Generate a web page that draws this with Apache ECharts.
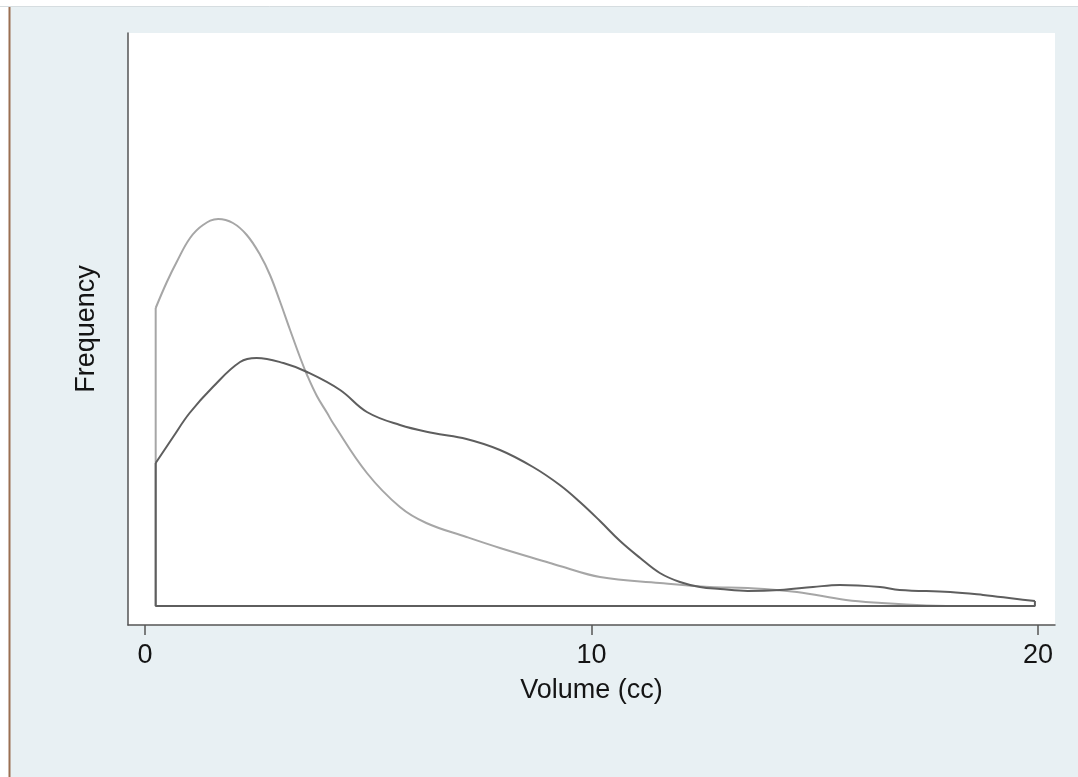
<!DOCTYPE html>
<html>
<head>
<meta charset="utf-8">
<style>
html,body{margin:0;padding:0;background:#fff;}
#chart{width:1078px;height:777px;}
</style>
<script src="https://cdn.jsdelivr.net/npm/echarts@6/dist/echarts.min.js"></script>
</head>
<body>
<div id="chart"></div>
<script>
// Volume (cc) values and estimated density heights
const xTicks = [0, 10, 20];
const xTickLabels = ['0', '10', '20'];
const lightX = [0.24, 0.49, 0.71, 1.01, 1.30, 1.64, 1.97, 2.28, 2.58, 2.80, 3.02, 3.25, 3.47, 3.63, 3.85, 4.08, 4.21, 4.97, 5.71, 6.3, 7.2, 7.95, 9.07, 9.29, 10.19, 11.53, 12.65, 13.5, 14.6, 15.7, 16.5, 17.5, 18.5, 19.93];
const lightY = [0.149, 0.162, 0.172, 0.184, 0.1905, 0.1935, 0.1915, 0.1855, 0.1755, 0.1655, 0.1525, 0.138, 0.1245, 0.1155, 0.105, 0.0965, 0.0915, 0.0665, 0.0495, 0.0415, 0.0345, 0.029, 0.0215, 0.020, 0.0145, 0.0115, 0.0095, 0.009, 0.007, 0.003, 0.0015, 0.0003, 0.0, 0.0];
const darkX = [0.24, 0.63, 1.0, 1.52, 2.13, 2.5, 3.1, 3.63, 4.37, 4.97, 5.71, 6.45, 7.2, 7.95, 8.69, 9.29, 9.74, 10.19, 10.64, 11.09, 11.53, 11.98, 12.43, 12.88, 13.5, 14.22, 14.96, 15.56, 16.46, 16.9, 18.03, 18.77, 19.53, 19.93];
const darkY = [0.0715, 0.0845, 0.0965, 0.1095, 0.122, 0.124, 0.1215, 0.117, 0.108, 0.097, 0.0905, 0.0865, 0.0835, 0.078, 0.0695, 0.0605, 0.052, 0.0425, 0.0325, 0.024, 0.0165, 0.012, 0.0095, 0.0085, 0.0075, 0.008, 0.0095, 0.0105, 0.0095, 0.008, 0.007, 0.0055, 0.0035, 0.0025];

const lightColor = '#a6a6a6';
const darkColor = '#5e5e5e';

const zip = (xs, ys) => xs.map((x, i) => [x, ys[i]]);
const lightData = zip(lightX, lightY);
const darkData = zip(darkX, darkY);
const x0 = darkX[0], xEnd = darkX[darkX.length - 1];

const chart = echarts.init(document.getElementById('chart'), null, {renderer: 'canvas'});
const font = '"Liberation Sans", Arial, sans-serif';
const textColor = '#141414';
chart.setOption({
  backgroundColor: '#e8f0f3',
  animation: false,
  graphic: [
    {type: 'rect', shape: {x: 0, y: 0, width: 9, height: 777}, style: {fill: '#ffffff'}, silent: true},
    {type: 'rect', shape: {x: 0, y: 0, width: 1078, height: 6}, style: {fill: '#ffffff'}, silent: true},
    {type: 'line', shape: {x1: 0, y1: 6.5, x2: 1078, y2: 6.5}, style: {stroke: '#d6dde0', lineWidth: 1}, silent: true},
    {type: 'line', shape: {x1: 9.5, y1: 7, x2: 9.5, y2: 777}, style: {stroke: '#9a6f52', lineWidth: 2}, silent: true}
  ],
  grid: {left: 128, right: 23, top: 33, bottom: 152, show: true, backgroundColor: '#ffffff', borderWidth: 0},
  xAxis: {
    type: 'value', min: -0.38, max: 20.38,
    name: 'Volume (cc)', nameLocation: 'middle', nameGap: 52,
    nameTextStyle: {fontFamily: font, fontSize: 27, color: textColor},
    axisLine: {show: true, onZero: false, lineStyle: {color: '#555555', width: 1.5}},
    axisTick: {show: true, customValues: xTicks, length: 10, lineStyle: {color: '#555555', width: 1.5}},
    axisLabel: {customValues: xTicks, formatter: v => xTickLabels[xTicks.indexOf(v)] ?? String(v), fontFamily: font, fontSize: 27, color: textColor, margin: 17},
    splitLine: {show: false}
  },
  yAxis: {
    type: 'value', min: -0.0095, max: 0.2865,
    name: 'Frequency', nameLocation: 'middle', nameGap: 28,
    nameTextStyle: {fontFamily: font, fontSize: 27, color: textColor},
    axisLine: {show: true, onZero: false, lineStyle: {color: '#555555', width: 1.5}},
    axisTick: {show: false},
    axisLabel: {show: false},
    splitLine: {show: false}
  },
  series: [
    {type: 'line', data: lightData, smooth: 0.4, symbol: 'none', lineStyle: {color: lightColor, width: 2}, z: 2},
    {type: 'line', data: [[x0, 0], [x0, lightY[0]]], symbol: 'none', lineStyle: {color: lightColor, width: 2}, z: 2},
    {type: 'line', data: darkData, smooth: 0.4, symbol: 'none', lineStyle: {color: darkColor, width: 2}, z: 3},
    {type: 'line', data: [[x0, darkY[0]], [x0, 0], [xEnd, 0], [xEnd, darkY[darkY.length - 1]]], symbol: 'none', lineStyle: {color: darkColor, width: 2}, z: 3}
  ]
});
</script>
</body>
</html>
